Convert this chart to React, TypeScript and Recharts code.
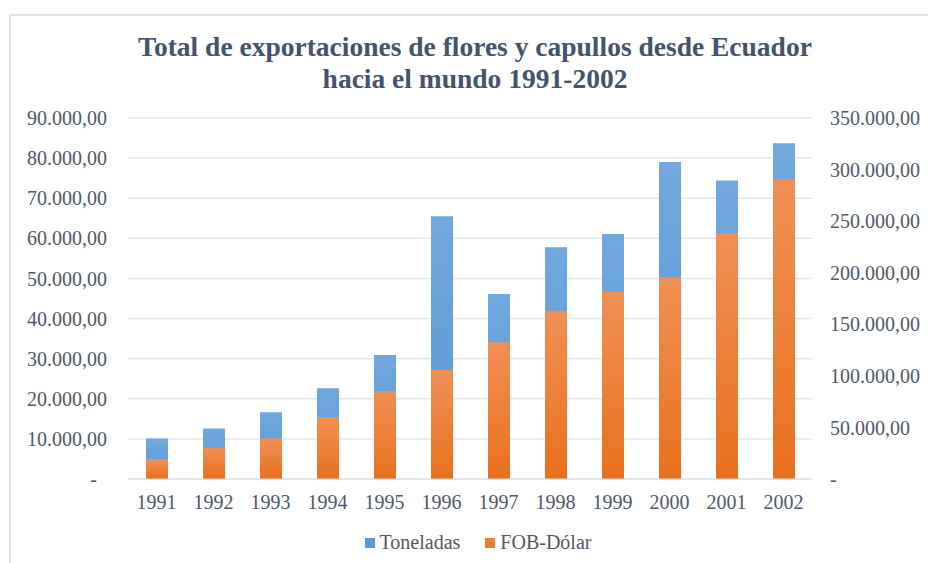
import React from "react"
import {
  BarChart, Bar, XAxis, YAxis, CartesianGrid, Legend,
} from "recharts"

const years = ["1991", "1992", "1993", "1994", "1995", "1996", "1997", "1998", "1999", "2000", "2001", "2002"]
const toneladas = [10100, 12600, 16650, 22650, 30900, 65500, 46100, 57800, 61100, 79000, 74400, 83700]
const fobDolar = [19200, 30300, 39450, 60000, 85300, 105700, 132500, 163200, 181600, 195600, 238300, 290900]
const leftTicks = [0, 10000, 20000, 30000, 40000, 50000, 60000, 70000, 80000, 90000]
const rightTicks = [0, 50000, 100000, 150000, 200000, 250000, 300000, 350000]
const seriesOrder = ["Toneladas", "FOB-Dólar"]

const FONT = "'Liberation Serif', 'Times New Roman', serif"
const TEXT = "#4f5868"

function fmt(v: number) {
  if (v === 0) return "-\u00a0\u00a0"
  const s = String(Math.round(v))
  const grouped = s.replace(/\B(?=(\d{3})+(?!\d))/g, ".")
  return `${grouped},00`
}

const data = years.map((y, i) => ({
  year: y,
  Toneladas: toneladas[i],
  "FOB-Dólar": fobDolar[i],
}))

const legendColors: Record<string, string> = {
  Toneladas: "#5b9bd5",
  "FOB-Dólar": "#ed7d31",
}

function LegendContent({ payload }: { payload?: { value: string }[] }) {
  const items = [...(payload ?? [])].sort(
    (a, b) => seriesOrder.indexOf(a.value) - seriesOrder.indexOf(b.value),
  )
  return (
    <div style={{ display: "flex", justifyContent: "center", fontFamily: FONT, fontSize: 20, color: TEXT }}>
      {items.map((p) => (
        <div key={p.value} style={{ display: "flex", alignItems: "center", margin: "0 12.5px" }}>
          <span style={{ width: 10, height: 10, background: legendColors[p.value], marginRight: 5, display: "inline-block" }} />
          <span>{p.value}</span>
        </div>
      ))}
    </div>
  )
}

export default function App() {
  const tick = { fontSize: 20, fill: TEXT, fontFamily: FONT }
  return (
    <div style={{ position: "absolute", left: 0, top: 0, width: 928, height: 563, background: "#fff", overflow: "hidden" }}>
      <div style={{
        position: "absolute", left: 9, top: 14, width: 940, height: 600,
        borderLeft: "2px solid #dde2ea", borderTop: "2px solid #dde2ea",
      }} />
      <div style={{
        position: "absolute", left: 0, top: 31, width: 950, textAlign: "center",
        fontFamily: FONT, fontWeight: "bold", fontSize: 27.5, lineHeight: "32px", color: "#44546a",
      }}>
        Total de exportaciones de flores y capullos desde Ecuador<br />
        hacia el mundo 1991-2002
      </div>
      <BarChart
        width={928}
        height={563}
        data={data}
        margin={{ top: 118, right: 0, bottom: 54, left: 0 }}
        barGap={-22}
        style={{ position: "absolute", left: 0, top: 0 }}
      >
        <defs>
          <linearGradient id="gBlue" x1="0" y1="0" x2="0" y2="1">
            <stop offset="0%" stopColor="#71a8dd" />
            <stop offset="100%" stopColor="#5696d4" />
          </linearGradient>
          <linearGradient id="gOrange" x1="0" y1="0" x2="0" y2="1">
            <stop offset="0%" stopColor="#f08f55" />
            <stop offset="100%" stopColor="#e9711d" />
          </linearGradient>
        </defs>
        <CartesianGrid yAxisId="left" vertical={false} stroke="#e3e7ed" strokeWidth={1.5} />
        <XAxis
          dataKey="year"
          tick={tick}
          tickLine={false}
          axisLine={{ stroke: "#d9dde3" }}
          tickMargin={10}
          height={30}
          interval={0}
        />
        <YAxis
          yAxisId="left"
          orientation="left"
          domain={[0, 90000]}
          ticks={leftTicks}
          tickFormatter={fmt}
          tick={tick}
          tickLine={false}
          axisLine={false}
          tickMargin={15}
          width={128}
        />
        <YAxis
          yAxisId="right"
          orientation="right"
          domain={[0, 350000]}
          ticks={rightTicks}
          tickFormatter={fmt}
          tick={tick}
          tickLine={false}
          axisLine={false}
          tickMargin={12}
          width={116}
        />
        <Legend
          verticalAlign="middle"
          align="center"
          wrapperStyle={{ top: 531, left: 14, width: 928 }}
          content={<LegendContent />}
        />
        <Bar yAxisId="left" dataKey="Toneladas" fill="url(#gBlue)" barSize={22} isAnimationActive={false} />
        <Bar yAxisId="right" dataKey="FOB-Dólar" fill="url(#gOrange)" barSize={22} isAnimationActive={false} />
      </BarChart>
    </div>
  )
}
